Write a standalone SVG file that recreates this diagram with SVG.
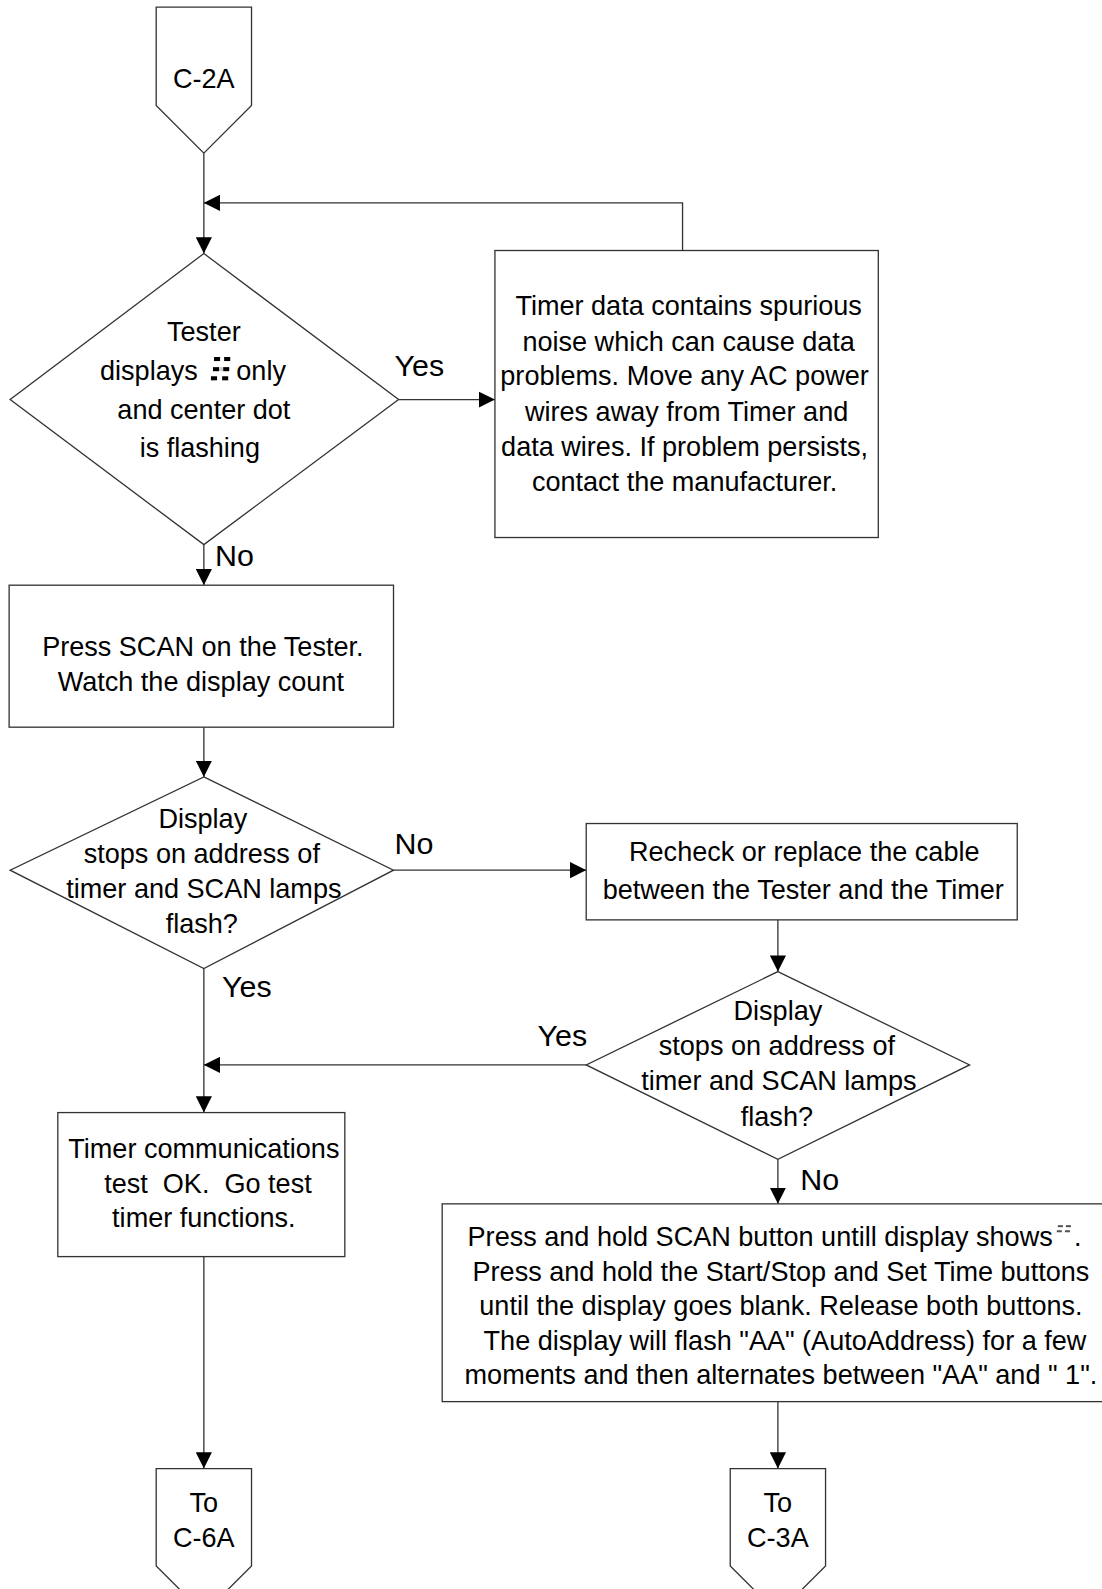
<svg xmlns="http://www.w3.org/2000/svg" width="1102" height="1589" viewBox="0 0 1102 1589">
<style>
.shape{fill:#fff;stroke:#333;stroke-width:1.3}
.conn{fill:none;stroke:#333;stroke-width:1.3}
.t{font-family:"Liberation Sans",Arial,sans-serif;font-size:26.7px;fill:#000;text-anchor:middle}
.lbl{font-family:"Liberation Sans",Arial,sans-serif;font-size:30px;fill:#000}
.pre{white-space:pre}
</style>
<defs>
<marker id="arr" markerUnits="userSpaceOnUse" markerWidth="16" markerHeight="16" refX="16" refY="8" orient="auto">
<path d="M0,0 L16,8 L0,16 z" fill="#000"/>
</marker>
</defs>
<rect width="1102" height="1589" fill="#fff"/>
<g id="diagram" transform="scale(1.0142)">
<g id="connectors">
<path class="conn" d="M201,151 V250" marker-end="url(#arr)"/>
<path class="conn" d="M673,247 V200 H201" marker-end="url(#arr)"/>
<path class="conn" d="M393,394 H488" marker-end="url(#arr)"/>
<path class="conn" d="M201,537 V577" marker-end="url(#arr)"/>
<path class="conn" d="M201,717 V766" marker-end="url(#arr)"/>
<path class="conn" d="M388,858 H578" marker-end="url(#arr)"/>
<path class="conn" d="M767,907 V958" marker-end="url(#arr)"/>
<path class="conn" d="M201,955 V1097" marker-end="url(#arr)"/>
<path class="conn" d="M578,1050 H201" marker-end="url(#arr)"/>
<path class="conn" d="M767,1143 V1187" marker-end="url(#arr)"/>
<path class="conn" d="M201,1239 V1448" marker-end="url(#arr)"/>
<path class="conn" d="M767,1382 V1448" marker-end="url(#arr)"/>
<text class="lbl" x="389" y="371">Yes</text>
<text class="lbl" x="212" y="558">No</text>
<text class="lbl" x="389" y="842">No</text>
<text class="lbl" x="219" y="983">Yes</text>
<text class="lbl" x="530" y="1031">Yes</text>
<text class="lbl" x="789" y="1173">No</text>
</g>
<g id="start-C2A">
<path class="shape" d="M154,7 H248 V104 L201,151 L154,104 Z"/>
<text class="t" x="201" y="87">C-2A</text>
</g>
<g id="decision1">
<path class="shape" d="M201,250 L393,394 L201,537 L10,394 Z"/>
<text class="t" x="201" y="336">Tester</text>
<text class="t" x="195" y="375" style="text-anchor:end">displays</text>
<g id="glyph1" fill="#000">
<rect x="211" y="352" width="6" height="4"/>
<rect x="221" y="352" width="6" height="4"/>
<rect x="210" y="362" width="6" height="4"/>
<rect x="220" y="362" width="6" height="4"/>
<rect x="216" y="362" width="4" height="4" fill="#ccc"/>
<rect x="208" y="371" width="6" height="4"/>
<rect x="219" y="371" width="6" height="4"/>
</g>
<text class="t" x="233" y="375" style="text-anchor:start">only</text>
<text class="t" x="201" y="413">and center dot</text>
<text class="t" x="197" y="451">is flashing</text>
</g>
<g id="box-noise">
<rect class="shape" x="488" y="247" width="378" height="283"/>
<text class="t" x="679" y="311">Timer data contains spurious</text>
<text class="t" x="679" y="346">noise which can cause data</text>
<text class="t" x="675" y="380">problems. Move any AC power</text>
<text class="t" x="677" y="415">wires away from Timer and</text>
<text class="t" x="675" y="450">data wires. If problem persists,</text>
<text class="t" x="675" y="484">contact the manufacturer.</text>
</g>
<g id="box-scan">
<rect class="shape" x="9" y="577" width="379" height="140"/>
<text class="t" x="200" y="647">Press SCAN on the Tester.</text>
<text class="t" x="198" y="681">Watch the display count</text>
</g>
<g id="decision2">
<path class="shape" d="M201,766 L388,858 L201,955 L10,858 Z"/>
<text class="t" x="200" y="816">Display</text>
<text class="t" x="199" y="851">stops on address of</text>
<text class="t" x="201" y="885">timer and SCAN lamps</text>
<text class="t" x="199" y="920">flash?</text>
</g>
<g id="box-cable">
<rect class="shape" x="578" y="812" width="425" height="95"/>
<text class="t" x="793" y="849">Recheck or replace the cable</text>
<text class="t" x="792" y="886">between the Tester and the Timer</text>
</g>
<g id="decision3">
<path class="shape" d="M767,958 L956,1050 L767,1143 L578,1050 Z"/>
<text class="t" x="767" y="1006">Display</text>
<text class="t" x="766" y="1040">stops on address of</text>
<text class="t" x="768" y="1075">timer and SCAN lamps</text>
<text class="t" x="766" y="1110">flash?</text>
</g>
<g id="box-ok">
<rect class="shape" x="57" y="1097" width="283" height="142"/>
<text class="t" x="201" y="1142">Timer communications</text>
<text class="t pre" x="205" y="1176">test  OK.  Go test</text>
<text class="t" x="201" y="1210">timer functions.</text>
</g>
<g id="box-reset">
<rect class="shape" x="436" y="1187" width="654" height="195"/>
<text class="t" x="1038" y="1229" style="text-anchor:end">Press and hold SCAN button untill display shows</text>
<g id="glyph2" fill="#555">
<rect x="1043" y="1208" width="5" height="2"/>
<rect x="1051" y="1208" width="5" height="2"/>
<rect x="1042" y="1213" width="5" height="2"/>
<rect x="1050" y="1213" width="5" height="2"/>
</g>
<text class="t" x="1059" y="1229" style="text-anchor:start">.</text>
<text class="t" x="770" y="1263">Press and hold the Start/Stop and Set Time buttons</text>
<text class="t" x="770" y="1297">until the display goes blank. Release both buttons.</text>
<text class="t" x="774" y="1331">The display will flash "AA" (AutoAddress) for a few</text>
<text class="t pre" x="770" y="1365">moments and then alternates between "AA" and " 1".</text>
</g>
<g id="end-C6A">
<path class="shape" d="M154,1448 H248 V1544 L201,1591 L154,1544 Z"/>
<text class="t" x="201" y="1491">To</text>
<text class="t" x="201" y="1525">C-6A</text>
</g>
<g id="end-C3A">
<path class="shape" d="M720,1448 H814 V1544 L767,1591 L720,1544 Z"/>
<text class="t" x="767" y="1491">To</text>
<text class="t" x="767" y="1525">C-3A</text>
</g>
</g>
</svg>
